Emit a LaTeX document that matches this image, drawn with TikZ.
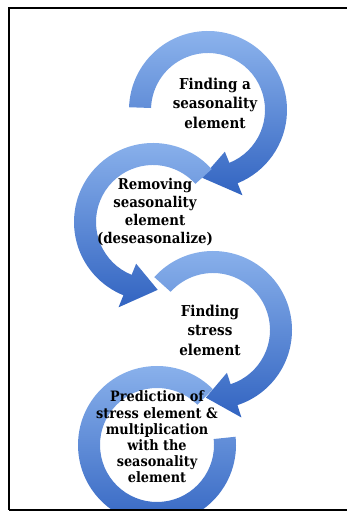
\documentclass[tikz,border=0pt]{standalone}
\usepackage{fontspec}
\setmainfont{DejaVu Serif Condensed}
\usepackage{xcolor}
\usepackage{tikz}
\usetikzlibrary{positioning}
\definecolor{ringlight}{RGB}{141,180,237}
\definecolor{ringdark}{RGB}{50,100,193}
\spaceskip=2.6pt plus 1pt\relax
\tikzset{
  cyclearrow/.style={
    draw=none, top color=ringlight, bottom color=ringdark
  },
  steptext/.style={
    align=center, inner sep=0pt, text=black,
    font=\fontsize{15}{19.5}\selectfont\bfseries
  },
  smalltext/.style={
    steptext, font=\fontsize{14.3}{16.2}\selectfont\bfseries
  },
  frameline/.style={draw=black, line width=2.4pt},
}

\begin{document}
\begin{tikzpicture}[x=1pt, y=1pt]
  \useasboundingbox (0,0) rectangle (346,521);

  % Rings
  \path[cyclearrow, shift={(208,411)}] (178:79)
    arc[start angle=178, end angle=-68, radius=79] -- (-68:92) -- (-95:68)
    -- (-68:45) -- (-68:57) arc[start angle=-68, end angle=178, radius=57] -- cycle;
  \path[cyclearrow, shift={(153,299)}] (42:79)
    arc[start angle=42, end angle=248, radius=79] -- (248:92) -- (274:68)
    -- (248:45) -- (248:57) arc[start angle=248, end angle=42, radius=57] -- cycle;
  \path[cyclearrow, shift={(213,191)}] (138:79)
    arc[start angle=138, end angle=-72, radius=79] -- (-72:92) -- (-96:68)
    -- (-72:45) -- (-72:57) arc[start angle=-72, end angle=138, radius=57] -- cycle;
  \begin{scope}
    \clip (9,11) rectangle (350,513);
    \path[cyclearrow, shift={(157,76)}] (45:79)
      arc[start angle=45, end angle=366, radius=79] -- (366:57)
      arc[start angle=366, end angle=45, radius=57] -- cycle;
  \end{scope}

  % Nodes
  \node[steptext] (find) at (215,418) {Finding a\\seasonality\\element};
  \node[steptext, font=\fontsize{14.8}{17.8}\selectfont\bfseries]
    (remove) at (155,309) {Removing\\seasonality\\element\\(deseasonalize)};
  \node[steptext] (stress) at (210,191) {Finding\\stress\\element};
  \node[smalltext] (predict) at (157,84)
    {Prediction of\\stress element \&\\multiplication\\with the\\seasonality\\element};

  % Frame
  \draw[frameline] (9,11) -- (9,513) -- (352,513);
  \draw[frameline] (9,11) -- (352,11);
\end{tikzpicture}
\end{document}
